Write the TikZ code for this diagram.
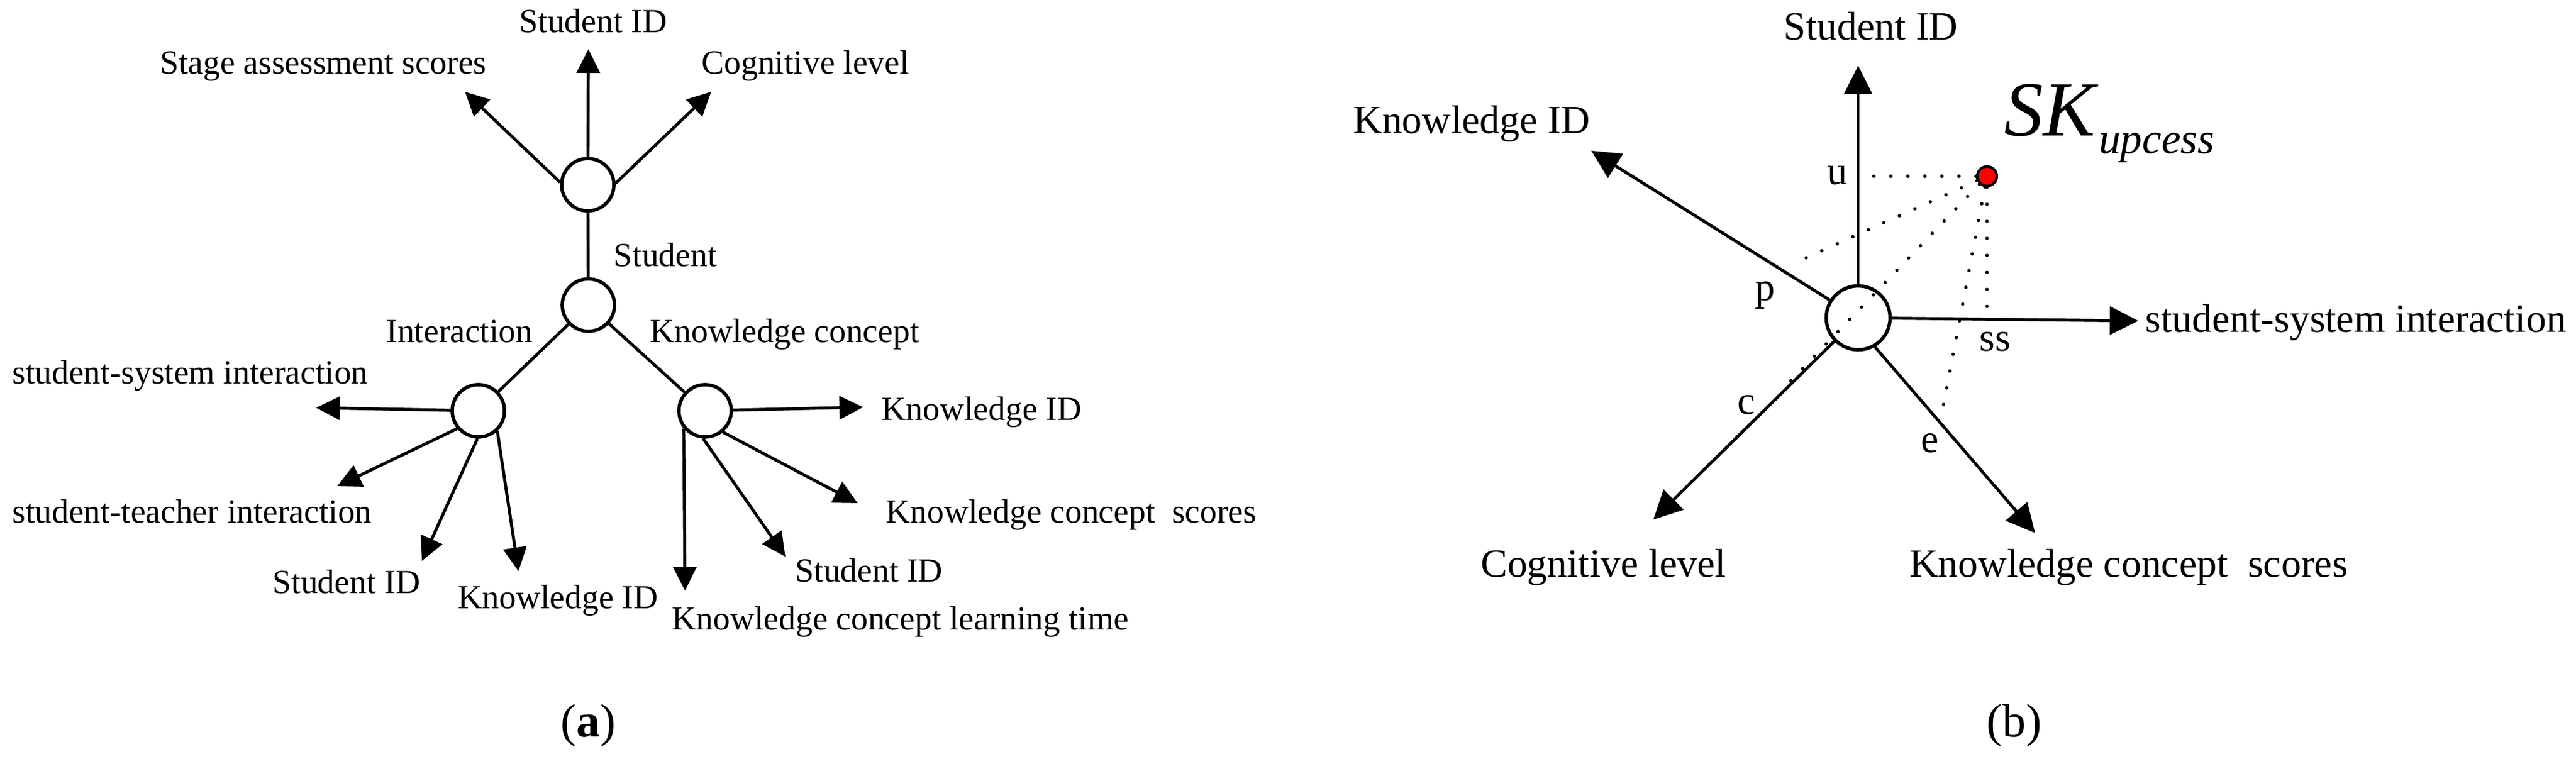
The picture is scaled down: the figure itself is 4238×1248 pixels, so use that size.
\documentclass[tikz,border=0pt]{standalone}
\usepackage{fontspec}
\setmainfont{Liberation Serif}
\usetikzlibrary{arrows.meta}

\tikzset{
	hub/.style={circle, draw, line width=1.6pt, minimum size=0.86cm, inner sep=0pt},
	big hub/.style={hub, minimum size=1.05cm},
	link/.style={line width=1.4pt},
	feature/.style={link, -{Triangle[length=0.39cm, width=0.38cm]}},
	axis/.style={link, -{Triangle[length=0.47cm, width=0.46cm]}},
	projection/.style={line width=1.6pt, line cap=round, dash pattern=on 0pt off 0.28cm},
	label/.style={inner sep=0pt, font=\fontsize{15.8}{18}\selectfont},
	big label/.style={inner sep=0pt, font=\fontsize{18.7}{22}\selectfont},
	caption/.style={inner sep=0pt, font=\fontsize{22}{26}\selectfont}
}

\begin{document}
\begin{tikzpicture}[x=0.01cm, y=-0.01cm]
		\useasboundingbox (0,0) rectangle (4238,1248);
		
		%(a) tree of entities
		\node [hub] (student) at (967,304) {};
		\node [hub] (root) at (968,502) {};
		\node [hub] (interaction) at (787,676) {};
		\node [hub] (knowledge) at (1160,676) {};
		
		\coordinate (student id) at (968,81);
		\coordinate (stage scores) at (765,151);
		\coordinate (cognitive) at (1170,151);
		\coordinate (system inter) at (520,671);
		\coordinate (teacher inter) at (555,800);
		\coordinate (inter student id) at (694,923);
		\coordinate (inter knowledge id) at (853,940);
		\coordinate (knowledge id) at (1420,670);
		\coordinate (concept scores) at (1411,828);
		\coordinate (concept student id) at (1292,916);
		\coordinate (learning time) at (1127,972);
		
		\draw [link] (student) -- (root);
		\draw [link] (root) -- (interaction);
		\draw [link] (root) -- (knowledge);
		
		\draw [feature] (student) -- (student id);
		\draw [feature] (student.175) -- (stage scores);
		\draw [feature] (student.3) -- (cognitive);
		
		\draw [feature] (interaction) -- (system inter);
		\draw [feature] (interaction.220) -- (teacher inter);
		\draw [feature] (interaction.268) -- (inter student id);
		\draw [feature] (interaction.313) -- (inter knowledge id);
		
		\draw [feature] (knowledge) -- (knowledge id);
		\draw [feature] (knowledge.310) -- (concept scores);
		\draw [feature] (knowledge.266) -- (concept student id);
		\draw [feature] (knowledge.220) -- (learning time);
		
		\node [label, anchor=base] (t student id) at (976,53) {Student ID};
		\node [label, anchor=base] (t stage) at (532,121) {Stage assessment scores};
		\node [label, anchor=base] (t cognitive) at (1325,121) {Cognitive level};
		\node [label, anchor=base west] (t student) at (1009,438) {Student};
		\node [label, anchor=base] (t interaction) at (756,563) {Interaction};
		\node [label, anchor=base west] (t knowledge) at (1069,563) {Knowledge concept};
		\node [label, anchor=base west] (t system) at (20,631) {student-system interaction};
		\node [label, anchor=base west] (t teacher) at (20,860) {student-teacher interaction};
		\node [label, anchor=base] (t inter student) at (570,976) {Student ID};
		\node [label, anchor=base] (t inter knowledge) at (918,1001) {Knowledge ID};
		\node [label, anchor=base west] (t knowledge id) at (1450,691) {Knowledge ID};
		\node [label, anchor=base west] (t scores) at (1457,860) {Knowledge concept\ \ scores};
		\node [label, anchor=base west] (t concept student) at (1308,957) {Student ID};
		\node [label, anchor=base west] (t time) at (1105,1036) {Knowledge concept learning time};
		
		\node [caption, anchor=base] (cap a) at (968,1212) {(\textbf{a})};
		
		%(b) feature space
		\node [big hub] (origin) at (3057,523) {};
		\node [circle, draw, fill=red, line width=1.2pt, minimum size=0.32cm, inner sep=0pt] (sk) at (3269,290) {};
		
		\coordinate (axis student) at (3057,108);
		\coordinate (axis knowledge) at (2618,248);
		\coordinate (axis system) at (3518,528);
		\coordinate (axis cognitive) at (2720,855);
		\coordinate (axis scores) at (3348,877);
		
		\draw [axis] (origin) -- (axis student);
		\draw [axis] (origin) -- (axis knowledge);
		\draw [axis] (origin) -- (axis system);
		\draw [axis] (origin) -- (axis cognitive);
		\draw [axis] (origin.300) -- (axis scores);
		
		%projections of the point
		\coordinate (u) at (3060,290);
		\coordinate (p) at (2952,433);
		\coordinate (c) at (2943,630);
		\coordinate (ss) at (3269,522);
		\coordinate (e) at (3194,684);
		
		\draw [projection] (sk) -- (u);
		\draw [projection] (sk) -- (p);
		\draw [projection] (sk) -- (c);
		\draw [projection] (sk) -- (ss);
		\draw [projection] (sk) -- (e);
		
		\node [big label, anchor=base east] (t u) at (3040,303) {u};
		\node [big label, anchor=base west] (t p) at (2887,494) {p};
		\node [big label, anchor=base west] (t c) at (2858,681) {c};
		\node [big label, anchor=base west] (t e) at (3160,744) {e};
		\node [big label, anchor=base west] (t ss) at (3256,577) {ss};
		
		\node [big label, anchor=base] (t axis student) at (3078,65) {Student ID};
		\node [big label, anchor=base] (t axis knowledge) at (2421,219) {Knowledge ID};
		\node [big label, anchor=base west] (t axis system) at (3529,546) {student-system interaction};
		\node [big label, anchor=base] (t axis cognitive) at (2638,949) {Cognitive level};
		\node [big label, anchor=base] (t axis scores) at (3502,949) {Knowledge concept\ \ scores};
		
		\node [inner sep=0pt, anchor=base west] (t sk) at (3297,223) {{\fontsize{36.5}{40}\selectfont\textit{SK}}\raisebox{-8.5pt}{\fontsize{20.3}{22}\selectfont\textit{upcess}}};
		
		\node [caption, anchor=base] (cap b) at (3314,1212) {(b)};
	\end{tikzpicture}
\end{document}
